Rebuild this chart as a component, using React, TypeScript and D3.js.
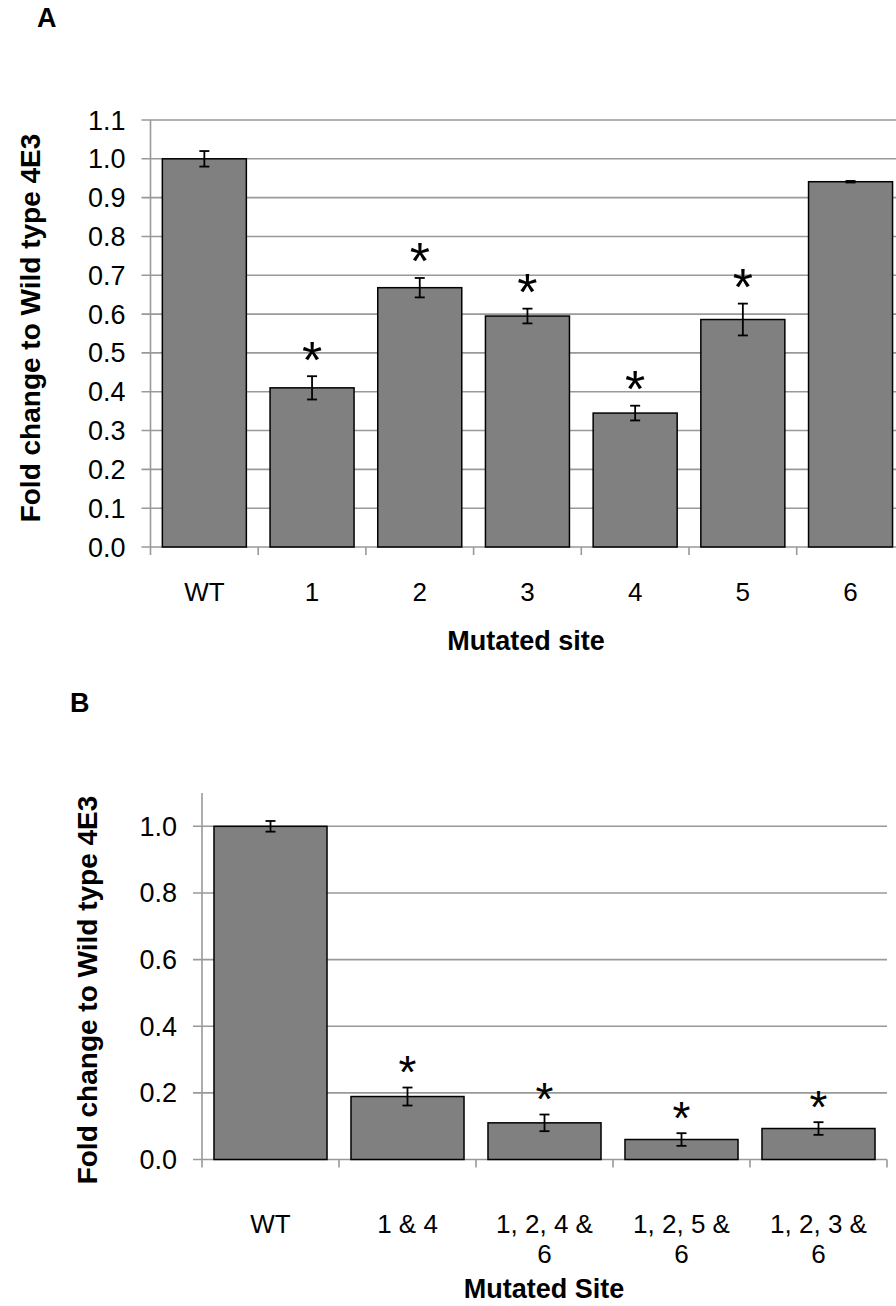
import React from "react";
import * as d3 from "d3";

// Panel A: single mutated sites
const sitesA = ["WT", "1", "2", "3", "4", "5", "6"];
const meansA = [1.0, 0.41, 0.668, 0.595, 0.345, 0.586, 0.941];
const errorsA = [0.02, 0.03, 0.025, 0.019, 0.019, 0.041, 0.002];
const signifA = [false, true, true, true, true, true, false];
const ticksA = [0, 0.1, 0.2, 0.3, 0.4, 0.5, 0.6, 0.7, 0.8, 0.9, 1.0, 1.1];

// Panel B: combined mutated sites
const sitesB = [["WT"], ["1 & 4"], ["1, 2, 4 &", "6"], ["1, 2, 5 &", "6"], ["1, 2, 3 &", "6"]];
const meansB = [1.0, 0.189, 0.11, 0.06, 0.093];
const errorsB = [0.016, 0.027, 0.025, 0.019, 0.019];
const signifB = [false, true, true, true, true];
const ticksB = [0, 0.2, 0.4, 0.6, 0.8, 1.0];

const FONT = "'Liberation Sans', Arial, Helvetica, sans-serif";
const GRID = "#999999";

type PanelProps = {
  letter: string;
  letterX: number;
  letterY: number;
  labels: string[][];
  means: number[];
  errors: number[];
  signif: boolean[];
  ticks: number[];
  x0: number;
  band: number;
  yTop: number;
  yZero: number;
  padding: number;
  gridRight: number;
  yTitleX: number;
  yTitleY: number;
  xLabelY: number;
  xTitle: string;
  xTitleX: number;
  xTitleY: number;
  starSize: number;
  starGap: number;
};

function Panel(p: PanelProps) {
  const n = p.labels.length;
  const keys = p.labels.map((_, i) => String(i));
  const x = d3
    .scaleBand<string>()
    .domain(keys)
    .range([p.x0, p.x0 + n * p.band])
    .paddingInner(p.padding)
    .paddingOuter(p.padding / 2);
  const y = d3.scaleLinear().domain([0, 1.1]).range([p.yZero, p.yTop]);
  const bw = x.bandwidth();
  const boundaries = d3.range(n + 1).map((i) => p.x0 + i * p.band);
  const xEnd = p.x0 + n * p.band;
  const fmt = d3.format(".1f");

  return (
    <g>
      <text x={p.letterX} y={p.letterY} fontFamily={FONT} fontWeight="bold" fontSize={27} fill="#000">
        {p.letter}
      </text>

      {/* horizontal gridlines and y ticks */}
      {p.ticks.map((t) => (
        <g key={t}>
          <line
            x1={p.x0 - 9}
            x2={t === 0 ? xEnd : p.gridRight}
            y1={y(t)}
            y2={y(t)}
            stroke={GRID}
            strokeWidth={1.6}
          />
          <text
            x={p.x0 - 25}
            y={y(t) + 9.5}
            textAnchor="end"
            fontFamily={FONT}
            fontSize={27}
            fill="#000"
          >
            {fmt(t)}
          </text>
        </g>
      ))}

      {/* y axis */}
      <line x1={p.x0} x2={p.x0} y1={p.yTop} y2={p.yZero} stroke={GRID} strokeWidth={1.6} />

      {/* x ticks between categories */}
      {boundaries.map((b, i) => (
        <line key={i} x1={b} x2={b} y1={p.yZero} y2={p.yZero + 8} stroke={GRID} strokeWidth={1.6} />
      ))}

      {/* bars */}
      {p.means.map((m, i) => (
        <rect
          key={i}
          x={x(String(i))!}
          y={y(m)}
          width={bw}
          height={y(0) - y(m)}
          fill="#808080"
          stroke="#000"
          strokeWidth={1.5}
        />
      ))}

      {/* error bars */}
      {p.means.map((m, i) => {
        const cx = x(String(i))! + bw / 2;
        const hi = y(m + p.errors[i]);
        const lo = y(m - p.errors[i]);
        return (
          <g key={i} stroke="#000" strokeWidth={1.8}>
            <line x1={cx} x2={cx} y1={hi} y2={lo} />
            <line x1={cx - 5} x2={cx + 5} y1={hi} y2={hi} />
            <line x1={cx - 5} x2={cx + 5} y1={lo} y2={lo} />
          </g>
        );
      })}

      {/* significance marks */}
      {p.means.map((m, i) =>
        p.signif[i] ? (
          <text
            key={i}
            x={x(String(i))! + bw / 2}
            y={y(m + p.errors[i]) - p.starGap + p.starSize * 0.45}
            textAnchor="middle"
            fontFamily={FONT}
            fontSize={p.starSize}
            fill="#000"
          >
            *
          </text>
        ) : null
      )}

      {/* category labels */}
      {p.labels.map((lines, i) => (
        <text
          key={i}
          x={x(String(i))! + bw / 2}
          y={p.xLabelY}
          textAnchor="middle"
          fontFamily={FONT}
          fontSize={26}
          fill="#000"
        >
          {lines.map((l, j) => (
            <tspan key={j} x={x(String(i))! + bw / 2} dy={j === 0 ? 0 : 30}>
              {l}
            </tspan>
          ))}
        </text>
      ))}

      {/* axis titles */}
      <text
        transform={`translate(${p.yTitleX},${p.yTitleY}) rotate(-90)`}
        textAnchor="middle"
        fontFamily={FONT}
        fontWeight="bold"
        fontSize={28}
        fill="#000"
      >
        Fold change to Wild type 4E3
      </text>
      <text
        x={p.xTitleX}
        y={p.xTitleY}
        textAnchor="middle"
        fontFamily={FONT}
        fontWeight="bold"
        fontSize={27}
        fill="#000"
      >
        {p.xTitle}
      </text>
    </g>
  );
}

export default function App() {
  return (
    <svg
      width={896}
      height={1306}
      viewBox="0 0 896 1306"
      style={{ position: "absolute", left: 0, top: 0, background: "#fff" }}
    >
      <rect width={896} height={1306} fill="#fff" />
      <Panel
        letter="A"
        letterX={37}
        letterY={27}
        labels={sitesA.map((s) => [s])}
        means={meansA}
        errors={errorsA}
        signif={signifA}
        ticks={ticksA}
        x0={150.5}
        band={107.7}
        yTop={120}
        yZero={547}
        padding={0.22}
        gridRight={896}
        yTitleX={40}
        yTitleY={328}
        xLabelY={601}
        xTitle="Mutated site"
        xTitleX={526}
        xTitleY={650}
        starSize={52}
        starGap={22}
      />
      <Panel
        letter="B"
        letterX={70}
        letterY={712}
        labels={sitesB}
        means={meansB}
        errors={errorsB}
        signif={signifB}
        ticks={ticksB}
        x0={202}
        band={137}
        yTop={793}
        yZero={1159.5}
        padding={0.175}
        gridRight={887}
        yTitleX={97}
        yTitleY={990}
        xLabelY={1233}
        xTitle="Mutated Site"
        xTitleX={544}
        xTitleY={1298}
        starSize={46}
        starGap={20}
      />
    </svg>
  );
}
